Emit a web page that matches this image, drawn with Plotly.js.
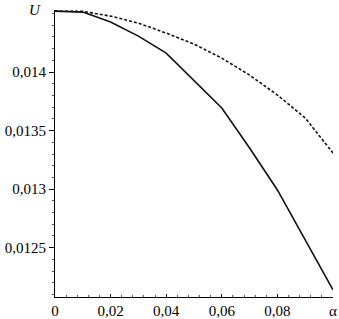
<!DOCTYPE html>
<html>
<head>
<meta charset="utf-8">
<script src="https://cdn.plot.ly/plotly-3.0.1.min.js"></script>
<style>html,body{margin:0;padding:0;background:#fff;}#chart{width:339px;height:319px;}</style>
</head>
<body>
<div id="chart"></div>
<script>
var alpha = [0, 0.01, 0.02, 0.03, 0.04, 0.05, 0.06, 0.07, 0.08, 0.09, 0.1];
var uSolid = [0.014520, 0.014512, 0.014427, 0.014307, 0.014162, 0.013923, 0.013693, 0.013352, 0.012993, 0.012567, 0.012140];
var uDashed = [0.014520, 0.014518, 0.014478, 0.014418, 0.014333, 0.014239, 0.014119, 0.013974, 0.013804, 0.013608, 0.013309];
var xTickVals = [0, 0.02, 0.04, 0.06, 0.08, 0.1];
var xTickText = ['0', '0,02', '0,04', '0,06', '0,08', 'α'];
var yTickVals = [0.0125, 0.013, 0.0135, 0.014];
var yTickText = ['0,0125', '0,013', '0,0135', '0,014'];
var yLabel = 'U';

var font = {family: 'Liberation Serif', size: 15, color: '#000'};

var traces = [
  {x: alpha, y: uDashed, mode: 'lines', line: {color: '#111', width: 1.6, dash: '3px,2px'}, hoverinfo: 'skip'},
  {x: alpha, y: uSolid, mode: 'lines', line: {color: '#111', width: 1.6}, hoverinfo: 'skip'}
];

var layout = {
  width: 339, height: 319,
  margin: {l: 55, r: 6, t: 10, b: 22},
  paper_bgcolor: '#fff', plot_bgcolor: '#fff',
  showlegend: false,
  font: font,
  xaxis: {
    range: [0, 0.1], tickvals: xTickVals, ticktext: xTickText,
    showgrid: false, zeroline: false, showline: true, linecolor: '#000', linewidth: 1,
    ticks: 'inside', ticklen: 3, tickcolor: '#000', tickfont: font,
    minor: {dtick: 0.004, ticks: 'inside', ticklen: 2, tickcolor: '#555', showgrid: false}
  },
  yaxis: {
    range: [0.012079, 0.01453], tickvals: yTickVals, ticktext: yTickText,
    showgrid: false, zeroline: false, showline: true, linecolor: '#000', linewidth: 1,
    ticks: 'outside', ticklen: 5, tickcolor: '#000', tickfont: font,
    minor: {dtick: 0.0001, ticks: 'outside', ticklen: 2, tickcolor: '#555', showgrid: false}
  },
  annotations: [
    {text: '<i>' + yLabel + '</i>', xref: 'paper', yref: 'paper', x: 0, y: 1, xanchor: 'right', yanchor: 'middle', xshift: -12, yshift: 0, showarrow: false, font: font}
  ]
};

Plotly.newPlot('chart', traces, layout, {staticPlot: true, displayModeBar: false});
</script>
</body>
</html>
